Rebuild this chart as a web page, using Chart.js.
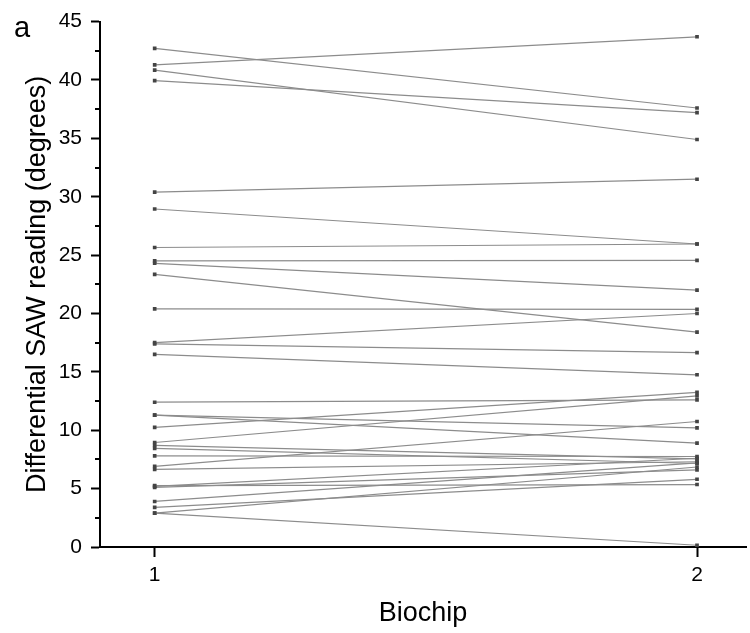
<!DOCTYPE html>
<html><head><meta charset="utf-8">
<script src="https://cdn.jsdelivr.net/npm/chart.js@4"></script>
<style>html,body{margin:0;padding:0;background:#fff}#wrap{width:750px;height:633px;position:relative}</style>
</head><body><div id="wrap"><canvas id="c"></canvas></div>
<script>
const categories = [1, 2];
const biochip1 = [42.7, 41.3, 40.85, 39.95, 30.4, 28.95, 25.65, 24.5, 24.3, 23.35, 20.4, 17.5, 17.4, 16.5,
                  12.4, 11.3, 11.3, 10.25, 8.95, 8.7, 8.45, 7.8, 6.9, 6.65, 5.25, 5.2, 5.1, 3.9, 3.4, 2.9, 2.9];
const biochip2 = [37.6, 43.7, 34.9, 37.2, 31.5, 25.95, 25.95, 24.55, 22.0, 18.4, 20.35, 20.0, 16.65, 14.75,
                  12.6, 10.2, 8.9, 13.25, 12.95, 7.55, 7.15, 7.75, 10.75, 7.3, 5.35, 7.6, 6.6, 7.2, 5.8, 6.85, 0.15];
const yTicks = [0, 5, 10, 15, 20, 25, 30, 35, 40, 45];
const yMinorTicks = [2.5, 7.5, 12.5, 17.5, 22.5, 27.5, 32.5, 37.5, 42.5];
const xTitle = 'Biochip';
const yTitle = 'Differential SAW reading (degrees)';
const panelLabel = 'a';

const FONT = "'Liberation Sans', Arial, sans-serif";

const datasets = biochip1.map((v, i) => ({
  data: [{x: categories[0], y: v}, {x: categories[1], y: biochip2[i]}],
  borderColor: '#8c8c8c',
  borderWidth: 1.2,
  pointStyle: 'rect',
  pointRadius: 2.6,
  pointBackgroundColor: '#444',
  pointBorderColor: '#444',
  pointBorderWidth: 0,
  showLine: true,
  fill: false
}));

const extras = {
  id: 'extras',
  afterDraw(chart) {
    const ctx = chart.ctx, y = chart.scales.y, left = chart.chartArea.left;
    ctx.save();
    ctx.strokeStyle = '#000';
    ctx.lineWidth = 2;
    yMinorTicks.forEach(v => {
      const p = Math.round(y.getPixelForValue(v));
      ctx.beginPath();
      ctx.moveTo(left, p);
      ctx.lineTo(left - 5, p);
      ctx.stroke();
    });
    ctx.fillStyle = '#000';
    ctx.font = '29px ' + FONT;
    ctx.textBaseline = 'alphabetic';
    ctx.fillText(panelLabel, 14, 37);
    ctx.restore();
  }
};

new Chart(document.getElementById('c'), {
  type: 'scatter',
  data: { datasets },
  plugins: [extras],
  options: {
    responsive: true,
    maintainAspectRatio: false,
    animation: false,
    devicePixelRatio: 1,
    layout: { padding: { top: 20, right: 0, bottom: 0, left: 0 } },
    plugins: { legend: { display: false }, tooltip: { enabled: false } },
    scales: {
      x: {
        type: 'linear',
        min: 0.8992,
        max: 2.0903,
        afterBuildTicks: s => { s.ticks = categories.map(v => ({value: v})); },
        afterFit: s => { s.height = 86; },
        ticks: { font: { family: FONT, size: 21 }, color: '#000', padding: 6, callback: v => String(v) },
        grid: { drawOnChartArea: false, drawTicks: true, tickLength: 10, tickWidth: 2, tickColor: '#000' },
        border: { color: '#000', width: 2 },
        title: { display: true, text: xTitle, color: '#000', font: { family: FONT, size: 27 }, padding: { top: 0, bottom: 3 } }
      },
      y: {
        type: 'linear',
        min: 0,
        max: 45,
        afterBuildTicks: s => { s.ticks = yTicks.map(v => ({value: v})); },
        afterFit: s => { s.width = 100; },
        ticks: { font: { family: FONT, size: 21 }, color: '#000', padding: 9 },
        grid: { drawOnChartArea: false, drawTicks: true, tickLength: 9, tickWidth: 2, tickColor: '#000' },
        border: { color: '#000', width: 2 },
        title: { display: true, text: yTitle, color: '#000', font: { family: FONT, size: 27 }, padding: { top: 21, bottom: 0 } }
      }
    }
  }
});
</script>
</body></html>
